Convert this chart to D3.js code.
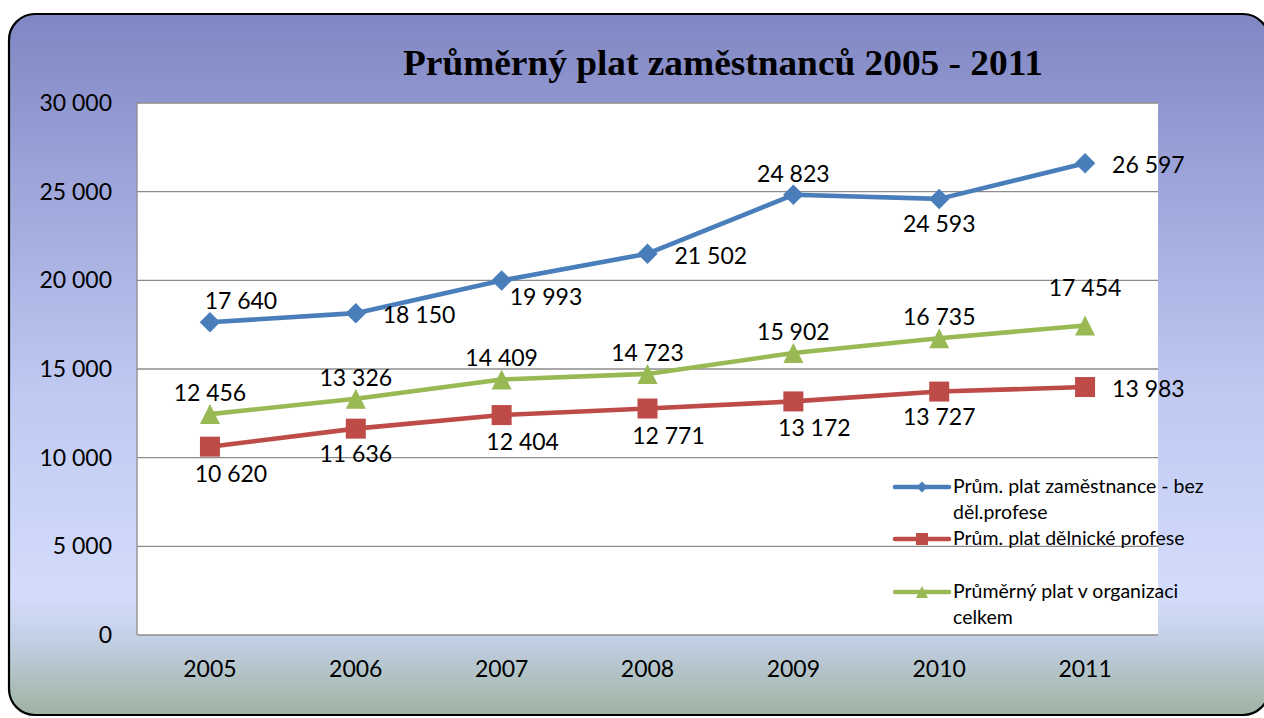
<!DOCTYPE html>
<meta charset="utf-8">
<style>
	body{ margin:0; background:#fff; }
	.tick text{ font-family: Lato, "Noto Sans", sans-serif; font-size:23px; fill:#000; }
	.grid line{ stroke:#8c8c8c; stroke-width:1.3; }
	.lbl{ font-family: Lato, "Noto Sans", sans-serif; font-size:23px; fill:#000; }
	.leg{ font-family: Lato, "Noto Sans", sans-serif; font-size:19.5px; fill:#000; }
</style>
<body>
<svg width="1264" height="718" id="chart"></svg>
<script src="https://d3js.org/d3.v7.min.js"></script>
<script>
	// data
	var years = ["2005", "2006", "2007", "2008", "2009", "2010", "2011"];
	var bezDel = [17640, 18150, 19993, 21502, 24823, 24593, 26597];
	var delnicke = [10620, 11636, 12404, 12771, 13172, 13727, 13983];
	var celkem = [12456, 13326, 14409, 14723, 15902, 16735, 17454];
	var yTicks = [0, 5000, 10000, 15000, 20000, 25000, 30000];
	// where excel put each data label
	var posBez = ["aboveR", "right", "rightlow", "right", "above", "below", "right"];
	var posDel = ["belowR", "below", "belowR", "belowR", "belowR", "below", "right"];
	var posCel = ["above", "above", "above", "above", "above", "above", "aboveHigh"];

	// excel style markers: rotated square, square, isoceles triangle
	var diamond = {draw: function(ctx, size){ var r = Math.sqrt(size) / 2;
		ctx.moveTo(0, -r); ctx.lineTo(r, 0); ctx.lineTo(0, r); ctx.lineTo(-r, 0); ctx.closePath(); }};
	var square = {draw: function(ctx, size){ var r = Math.sqrt(size) / 2;
		ctx.rect(-r, -r, 2 * r, 2 * r); }};
	var triangle = {draw: function(ctx, size){ var r = Math.sqrt(size) / 2;
		ctx.moveTo(0, -r); ctx.lineTo(r, r); ctx.lineTo(-r, r); ctx.closePath(); }};

	var series = [
		{name: ["Prům. plat zaměstnance - bez", "děl.profese"], values: bezDel, pos: posBez, color: "#4a7ebb", shape: diamond, size: 420, lsize: 120, ly: 487},
		{name: ["Prům. plat dělnické profese"], values: delnicke, pos: posDel, color: "#be4b48", shape: square, size: 400, lsize: 144, ly: 539},
		{name: ["Průměrný plat v organizaci", "celkem"], values: celkem, pos: posCel, color: "#98b954", shape: triangle, size: 400, lsize: 144, ly: 592}
	];

	var svg = d3.select("#chart");
	var fmt = function(v){ return d3.format(",")(v).replace(/,/g, " "); };

	// background frame
	var defs = svg.append("defs");
	var grad = defs.append("linearGradient").attr("id", "bg").attr("x1", 0).attr("y1", 0).attr("x2", 0).attr("y2", 1);
	grad.append("stop").attr("offset", "0%").attr("stop-color", "#8086c2");
	grad.append("stop").attr("offset", "20%").attr("stop-color", "#99a0d6");
	grad.append("stop").attr("offset", "55%").attr("stop-color", "#c0caf2");
	grad.append("stop").attr("offset", "83%").attr("stop-color", "#d3dcfb");
	grad.append("stop").attr("offset", "89%").attr("stop-color", "#c4d0e6");
	grad.append("stop").attr("offset", "100%").attr("stop-color", "#9db3a2");

	svg.append("rect")
		.attr("x", 9).attr("y", 14).attr("width", 1260).attr("height", 701)
		.attr("rx", 26).attr("ry", 26)
		.attr("fill", "url(#bg)").attr("stroke", "#000").attr("stroke-width", 2.2);

	var m = {left: 137, right: 1158, top: 103, bottom: 635};

	var x = d3.scaleBand().domain(years).range([m.left, m.right]);
	var y = d3.scaleLinear().domain([0, 30000]).range([m.bottom, m.top]);

	svg.append("rect")
		.attr("x", m.left).attr("y", m.top)
		.attr("width", m.right - m.left).attr("height", m.bottom - m.top)
		.attr("fill", "#fff");

	svg.append("g").attr("class", "grid")
		.selectAll("line").data(yTicks).join("line")
		.attr("x1", m.left).attr("x2", m.right)
		.attr("y1", function(d){ return y(d); }).attr("y2", function(d){ return y(d); });

	svg.append("line").attr("x1", m.left).attr("x2", m.left).attr("y1", m.top).attr("y2", m.bottom)
		.attr("stroke", "#8c8c8c").attr("stroke-width", 1.3);

	var yAxis = svg.append("g").attr("transform", "translate(" + (m.left - 25) + ",0)")
		.call(d3.axisLeft(y).tickValues(yTicks).tickSize(0).tickPadding(0).tickFormat(fmt));
	yAxis.select(".domain").remove();

	var xAxis = svg.append("g").attr("transform", "translate(0," + m.bottom + ")")
		.call(d3.axisBottom(x).tickSize(0).tickPadding(0));
	xAxis.select(".domain").remove();
	xAxis.selectAll("text").attr("y", 42).attr("dy", 0);

	// title
	svg.append("text")
		.attr("x", 723).attr("y", 75)
		.attr("text-anchor", "middle")
		.attr("textLength", 640).attr("lengthAdjust", "spacingAndGlyphs")
		.style("font-family", "'Liberation Serif', 'Times New Roman', serif")
		.style("font-weight", "bold").style("font-size", "35px")
		.text("Průměrný plat zaměstnanců 2005 - 2011");

	var cx = function(i){ return x(years[i]) + x.bandwidth() / 2; };
	var line = d3.line().x(function(d, i){ return cx(i); }).y(function(d){ return y(d); });

	var off = {
		above: [0, -13, "middle"],
		aboveR: [31, -13, "middle"],
		aboveHigh: [0, -29, "middle"],
		below: [0, 33, "middle"],
		belowR: [21, 35, "middle"],
		right: [27, 10, "start"],
		rightlow: [8, 25, "start"]
	};

	series.forEach(function(s){
		svg.append("path").datum(s.values)
			.attr("d", line)
			.attr("fill", "none").attr("stroke", s.color)
			.attr("stroke-width", 4.6).attr("stroke-linejoin", "round");

		svg.selectAll(null).data(s.values).join("path")
			.attr("transform", function(d, i){ return "translate(" + cx(i) + "," + y(d) + ")"; })
			.attr("d", d3.symbol().type(s.shape).size(s.size))
			.attr("fill", s.color);

		svg.selectAll(null).data(s.values).join("text")
			.attr("class", "lbl")
			.attr("x", function(d, i){ return cx(i) + off[s.pos[i]][0]; })
			.attr("y", function(d, i){ return y(d) + off[s.pos[i]][1]; })
			.attr("text-anchor", function(d, i){ return off[s.pos[i]][2]; })
			.text(fmt);

		// legend
		svg.append("line").attr("x1", 895).attr("x2", 949).attr("y1", s.ly).attr("y2", s.ly)
			.attr("stroke", s.color).attr("stroke-width", 4.6).attr("stroke-linecap", "round");
		svg.append("path").attr("transform", "translate(922," + s.ly + ")")
			.attr("d", d3.symbol().type(s.shape).size(s.lsize)).attr("fill", s.color);
		s.name.forEach(function(t, j){
			svg.append("text").attr("class", "leg")
				.attr("x", 953).attr("y", s.ly + 6 + j * 26).text(t);
		});
	});
</script>
</body>
